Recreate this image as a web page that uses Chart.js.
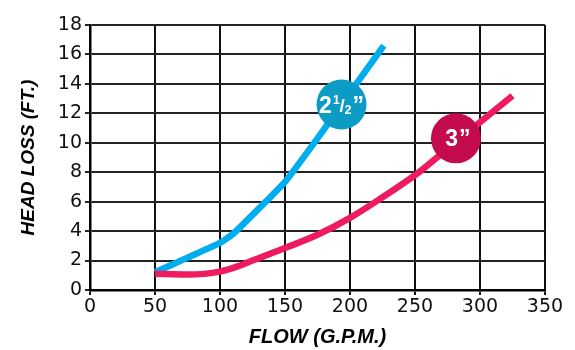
<!DOCTYPE html>
<html>
<head>
<meta charset="utf-8">
<script src="https://cdn.jsdelivr.net/npm/chart.js@4/dist/chart.umd.min.js"></script>
<style>
html,body{margin:0;padding:0;background:#fff;}
#wrap{width:575px;height:350px;}
</style>
</head>
<body>
<div id="wrap"><canvas id="c" width="575" height="350"></canvas></div>
<script>
// ---- data ----
const flowTicksMax = 350;
const headTicksMax = 18;
const flow25 = [50, 75, 100, 110, 125, 150, 175, 200, 226];
const loss25 = [1.2, 2.2, 3.2, 3.8, 5.1, 7.35, 10.3, 13.4, 16.6];
const flow3 = [50, 75, 100, 115, 125, 150, 175, 200, 225, 250, 275, 300, 325];
const loss3 = [1.1, 1.05, 1.25, 1.65, 2.0, 2.85, 3.75, 4.9, 6.3, 7.8, 9.6, 11.4, 13.2];
const labelNames = ['2½”', '3”'];
const labelFlow = [193.5, 281.5];
const labelLoss = [12.6, 10.3];

const blueLine = '#00adee';
const redLine = '#ee1b5e';
const blueDisc = '#0c9bc5';
const redDisc = '#c30b4d';

const toXY = (xs, ys) => xs.map((x, i) => ({x: x, y: ys[i]}));

const discText = {
  id: 'discText',
  afterDatasetsDraw(chart) {
    const ctx = chart.ctx;
    ctx.save();
    ctx.fillStyle = '#ffffff';
    ctx.textBaseline = 'alphabetic';
    ctx.textAlign = 'left';
    // 2 1/2"
    let p = chart.getDatasetMeta(0).data[0];
    let pieces = [
      {t: '2', f: 'bold 23px "Liberation Sans"', dy: 8, gap: 1},
      {t: '1', f: 'bold 12px "Liberation Sans"', dy: -1, gap: 0},
      {t: '/', f: 'bold 19px "Liberation Sans"', dy: 7, gap: 0},
      {t: '2', f: 'bold 12px "Liberation Sans"', dy: 9, gap: 1},
      {t: '”', f: 'bold 23px "Liberation Sans"', dy: 8, gap: 0}
    ];
    let total = 0;
    pieces.forEach(pc => { ctx.font = pc.f; pc.w = ctx.measureText(pc.t).width; total += pc.w + pc.gap; });
    let x = p.x - total / 2;
    pieces.forEach(pc => { ctx.font = pc.f; ctx.fillText(pc.t, x, p.y + pc.dy); x += pc.w + pc.gap; });
    // 3"
    p = chart.getDatasetMeta(1).data[0];
    pieces = [
      {t: '3', f: 'bold 23px "Liberation Sans"', dy: 8, gap: 1},
      {t: '”', f: 'bold 23px "Liberation Sans"', dy: 8, gap: 0}
    ];
    total = 0;
    pieces.forEach(pc => { ctx.font = pc.f; pc.w = ctx.measureText(pc.t).width; total += pc.w + pc.gap; });
    x = p.x - total / 2 + 2;
    pieces.forEach(pc => { ctx.font = pc.f; ctx.fillText(pc.t, x, p.y + pc.dy); x += pc.w + pc.gap; });
    ctx.restore();
  }
};

new Chart(document.getElementById('c'), {
  type: 'scatter',
  data: {
    datasets: [
      {label: labelNames[0], data: [{x: labelFlow[0], y: labelLoss[0]}], pointRadius: 25, pointHoverRadius: 25,
       pointBackgroundColor: blueDisc, pointBorderWidth: 0, showLine: false, order: 0},
      {label: labelNames[1], data: [{x: labelFlow[1], y: labelLoss[1]}], pointRadius: 25, pointHoverRadius: 25,
       pointBackgroundColor: redDisc, pointBorderWidth: 0, showLine: false, order: 0},
      {label: '3”', data: toXY(flow3, loss3), showLine: true, borderColor: redLine, borderWidth: 6.5,
       pointRadius: 0, cubicInterpolationMode: 'monotone', fill: false, order: 1, borderCapStyle: 'butt'},
      {label: '2½”', data: toXY(flow25, loss25), showLine: true, borderColor: blueLine, borderWidth: 6.5,
       pointRadius: 0, tension: 0.15, fill: false, order: 2, borderCapStyle: 'butt'}
    ]
  },
  options: {
    responsive: false,
    animation: false,
    events: [],
    layout: {padding: {left: 0, right: 30, top: 20, bottom: 0}},
    plugins: {legend: {display: false}, tooltip: {enabled: false}, title: {display: false}},
    scales: {
      x: {
        type: 'linear', min: 0, max: flowTicksMax,
        ticks: {stepSize: 50, color: '#111', padding: 1, font: {family: '"DejaVu Sans"', size: 19}, maxRotation: 0},
        grid: {color: '#111', lineWidth: 2, tickLength: 5},
        border: {color: '#000', width: 2.5},
        title: {display: true, text: 'FLOW (G.P.M.)', color: '#000', padding: {top: 0, bottom: 1},
                font: {family: '"Liberation Sans"', size: 20, weight: 'bold', style: 'italic'}},
        afterFit(s) { s.height = 60; }
      },
      y: {
        type: 'linear', min: 0, max: headTicksMax,
        ticks: {stepSize: 2, color: '#111', padding: 3, font: {family: '"DejaVu Sans"', size: 19}},
        grid: {color: '#222', lineWidth: 2, tickLength: 5},
        border: {color: '#000', width: 2.5},
        title: {display: true, text: 'HEAD LOSS (FT.)', color: '#000', padding: {top: 17, bottom: 0},
                font: {family: '"Liberation Sans"', size: 19, weight: 'bold', style: 'italic'}},
        afterFit(s) { s.width = 90; }
      }
    }
  },
  plugins: [discText]
});
</script>
</body>
</html>
